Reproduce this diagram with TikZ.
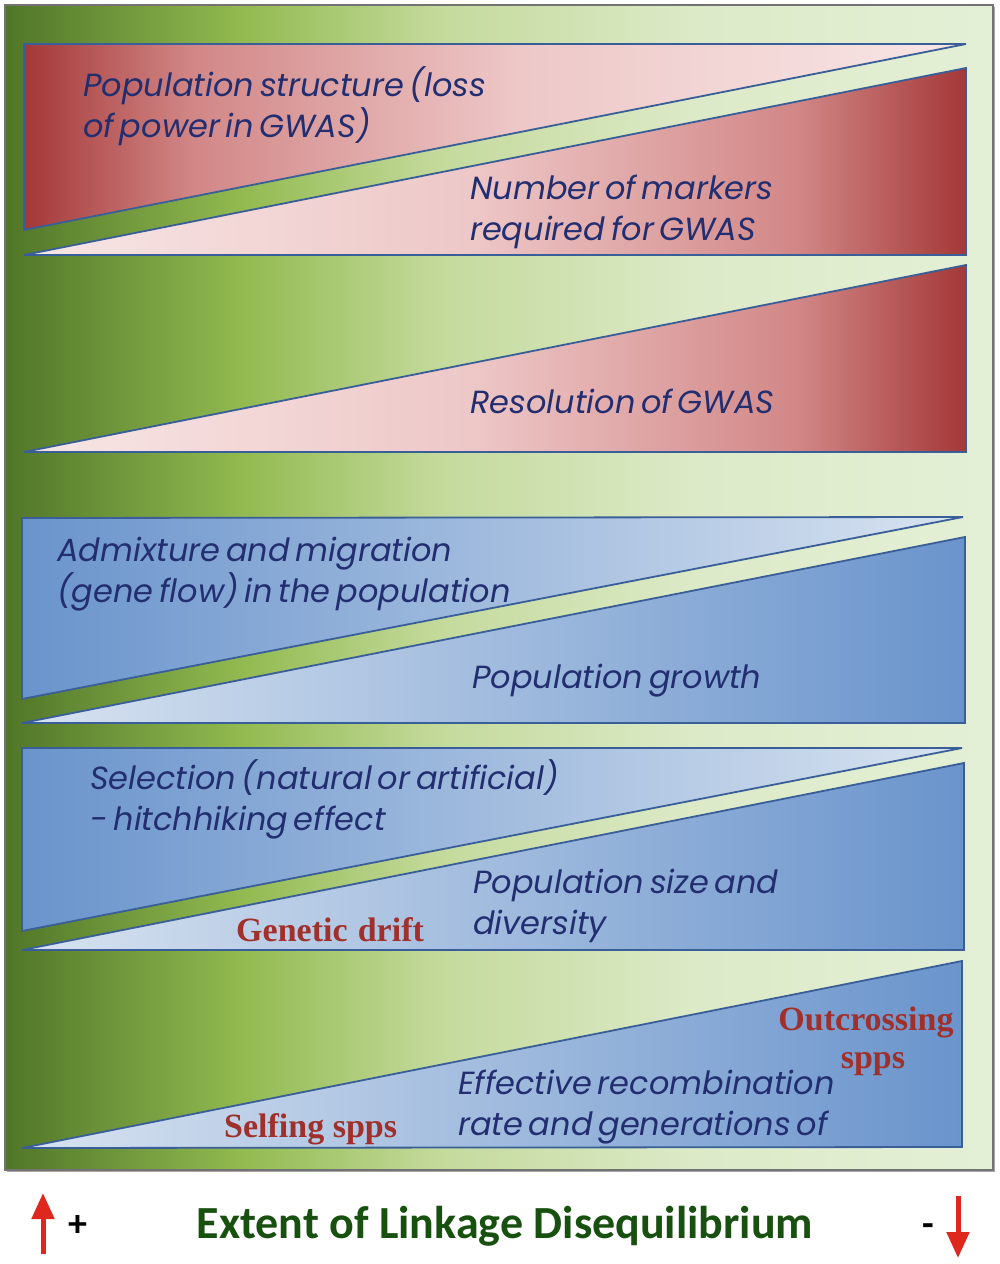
\documentclass[tikz,border=0pt]{standalone}
\usepackage{fontspec}
\usetikzlibrary{arrows.meta}
\newfontfamily\gothic[WordSpace=0.6]{Poppins}
\newfontfamily\serifb{Liberation Serif}
\newfontfamily\calib{Carlito}
\definecolor{g0}{RGB}{80,118,40}
\definecolor{g1}{RGB}{146,186,80}
\definecolor{g2}{RGB}{196,218,156}
\definecolor{g3}{RGB}{220,234,200}
\definecolor{g4}{RGB}{228,240,214}
\definecolor{r0}{RGB}{248,230,230}
\definecolor{r1}{RGB}{238,200,200}
\definecolor{r2}{RGB}{210,135,135}
\definecolor{r3}{RGB}{164,56,56}
\definecolor{bdark}{RGB}{106,148,204}
\definecolor{bmid}{RGB}{165,197,230}
\definecolor{bpale}{RGB}{216,227,240}
\definecolor{edge}{RGB}{58,95,152}
\definecolor{navy}{RGB}{34,46,112}
\definecolor{redtxt}{RGB}{160,48,44}
\definecolor{ldgreen}{RGB}{24,80,16}
\definecolor{arrred}{RGB}{222,40,30}
\pgfdeclarehorizontalshading{bgshade}{100bp}{color(0bp)=(g0); color(25bp)=(g0); color(37bp)=(g1); color(47bp)=(g2); color(60bp)=(g3); color(75bp)=(g4); color(100bp)=(g4)}
\pgfdeclarehorizontalshading{redRsh}{100bp}{color(0bp)=(r0); color(25bp)=(r0); color(48.5bp)=(r1); color(66bp)=(r2); color(75bp)=(r3); color(100bp)=(r3)}
\pgfdeclarehorizontalshading{redLsh}{100bp}{color(0bp)=(r3); color(25bp)=(r3); color(34bp)=(r2); color(51.5bp)=(r1); color(75bp)=(r0); color(100bp)=(r0)}
\tikzset{
  tri/.style={draw=edge, line width=1.8pt, line join=miter},
  redL/.style={tri, shading=redLsh},
  redR/.style={tri, shading=redRsh},
  bluL/.style={tri, left color=bdark, middle color=bmid, right color=bpale},
  bluR/.style={tri, left color=bpale, middle color=bmid, right color=bdark},
  lab/.style={font=\gothic\itshape\fontsize{32}{38}\selectfont, text=navy, anchor=base west, inner sep=0pt},
  rlab/.style={font=\serifb\bfseries\fontsize{34}{38}\selectfont, text=redtxt, inner sep=0pt},
  bigarrow/.style={draw=arrred, line width=5pt, -{Triangle[length=26pt,width=22pt]}}
}
\begin{document}
\begin{tikzpicture}[x=1pt,y=-1pt]
\useasboundingbox (0,0) rectangle (1000,1264);
\fill[white] (0,0) rectangle (1000,1264);
% frame
\fill[black!35] (7,7) rectangle (995,1172);
\fill[shading=bgshade] (5,5) rectangle (993,1170);
\draw[black!55, line width=1.5pt] (5,5) rectangle (993,1170);
% red triangles
\path[redL] (24,44) -- (966,44) -- (24,230) -- cycle;
\path[redR] (24,255) -- (966,68) -- (966,255) -- cycle;
\path[redR] (24,452) -- (966,265) -- (966,452) -- cycle;
% blue triangles
\path[bluL] (22,518) -- (963,517) -- (22,699) -- cycle;
\path[bluR] (22,723) -- (965,537) -- (965,723) -- cycle;
\path[bluL] (22,748) -- (962,748) -- (22,931) -- cycle;
\path[bluR] (22,950) -- (964,763) -- (964,950) -- cycle;
\path[bluR] (22,1148) -- (962,961) -- (962,1147) -- cycle;
% labels
\node[lab] (t1a) at (83,96) {Population structure (loss};
\node[lab] (t1b) at (83,137) {of power in GWAS)};
\node[lab] (t2a) at (470,199) {Number of markers};
\node[lab] (t2b) at (470,240) {required for GWAS};
\node[lab] (t3) at (470,413) {Resolution of GWAS};
\node[lab] (t4a) at (57,561) {Admixture and migration};
\node[lab] (t4b) at (57,602) {(gene flow) in the population};
\node[lab] (t5) at (472,688) {Population growth};
\node[lab] (t6a) at (90,789) {Selection (natural or artificial)};
\node[lab] (t6b) at (90,830) {- hitchhiking effect};
\node[lab] (t7a) at (473,893) {Population size and};
\node[lab] (t7b) at (473,934) {diversity};
\node[lab] (t8a) at (458,1094) {Effective recombination};
\node[lab] (t8b) at (458,1135) {rate and generations of};
\node[rlab, anchor=base west] (gd) at (236,941) {Genetic\hspace{0.3em}drift};
\node[rlab, anchor=base west] (sf) at (224,1137) {Selfing spps};
\node[rlab, anchor=base] (oc) at (866,1030) {Outcrossing};
\node[rlab, anchor=base] (sp) at (873,1068) {spps};
% bottom legend
\node[font=\calib\bfseries\fontsize{46}{50}\selectfont, text=ldgreen, anchor=base] (title) at (505,1238) {Extent of Linkage Disequilibrium};
\node[font=\calib\bfseries\fontsize{38}{40}\selectfont, anchor=base] (plus) at (78,1236) {+};
\node[font=\calib\bfseries\fontsize{38}{40}\selectfont, anchor=base] (minus) at (928,1236) {-};
\coordinate (uA) at (43,1254);
\coordinate (uB) at (43,1193);
\coordinate (dA) at (958,1196);
\coordinate (dB) at (958,1258);
\draw[bigarrow] (uA) -- (uB);
\draw[bigarrow] (dA) -- (dB);
\end{tikzpicture}
\end{document}
